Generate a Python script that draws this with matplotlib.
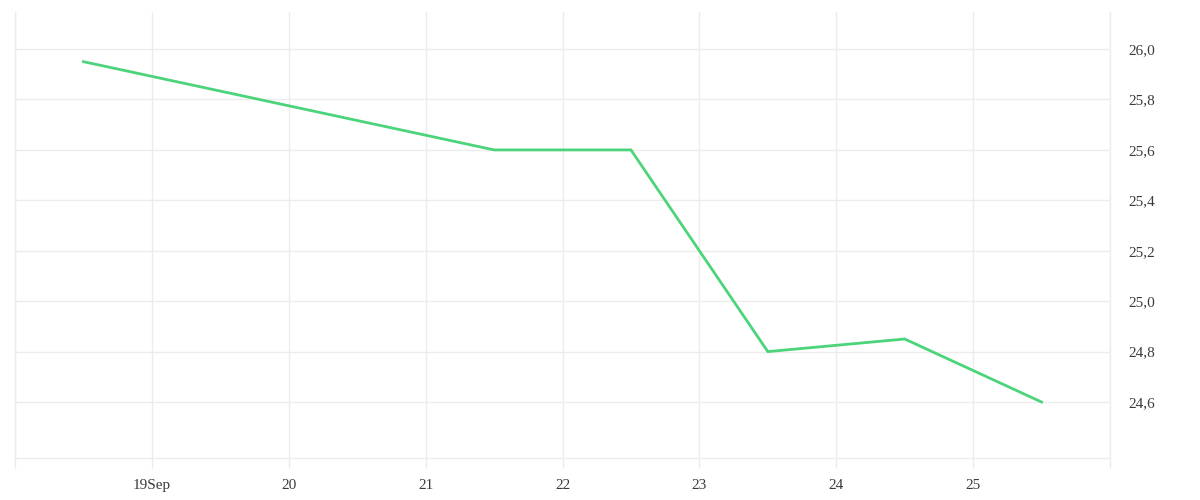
import matplotlib
matplotlib.use("Agg")
import matplotlib.pyplot as plt
import pandas as pd

# data (points sit at noon of each day)
dates = ["2023-09-18 12:00", "2023-09-21 12:00", "2023-09-22 12:00",
         "2023-09-23 12:00", "2023-09-24 12:00", "2023-09-25 12:00"]
values = [25.95, 25.6, 25.6, 24.8, 24.85, 24.6]
yticks = [24.6, 24.8, 25.0, 25.2, 25.4, 25.6, 25.8, 26.0]

x = pd.to_datetime(dates)
grid_c = "#ececec"
text_c = "#3a3a3a"

plt.rcParams['font.family'] = ['Liberation Serif', 'DejaVu Serif']

fig = plt.figure(figsize=(12, 5), dpi=100)
ax = fig.add_axes([15/1200, 1-458/500, (1110-15)/1200, (458-12)/500])

ax.plot(x, values, color="#4cd47a", lw=2, solid_joinstyle="miter", zorder=3)

ax.set_xlim(pd.Timestamp("2023-09-18"), pd.Timestamp("2023-09-26"))
ax.set_ylim(24.378, 26.147)

days = pd.date_range("2023-09-18", "2023-09-26", freq="D")
ax.set_xticks(days)
labels = []
for d in days:
    if d.day == 19:
        labels.append("19Sep")
    elif d.day in (18, 26):
        labels.append("")
    else:
        labels.append(str(d.day))
ax.set_xticklabels(labels)
ax.xaxis.grid(True, color=grid_c, lw=1)

ax.set_yticks(yticks)
ax.set_yticklabels([f"{v:.1f}".replace(".", ",") for v in yticks])
ax.yaxis.grid(True, color=grid_c, lw=1)
ax.yaxis.tick_right()

ax.tick_params(axis="x", length=7, width=1, color=grid_c, pad=8,
               labelsize=11, labelcolor=text_c)
ax.tick_params(axis="y", length=0, pad=13, labelsize=11, labelcolor=text_c)

ax.spines["top"].set_visible(False)
for side in ["bottom", "left", "right"]:
    ax.spines[side].set_color(grid_c)
    ax.spines[side].set_linewidth(1)

fig.savefig("out.png", dpi=100, facecolor="white")
